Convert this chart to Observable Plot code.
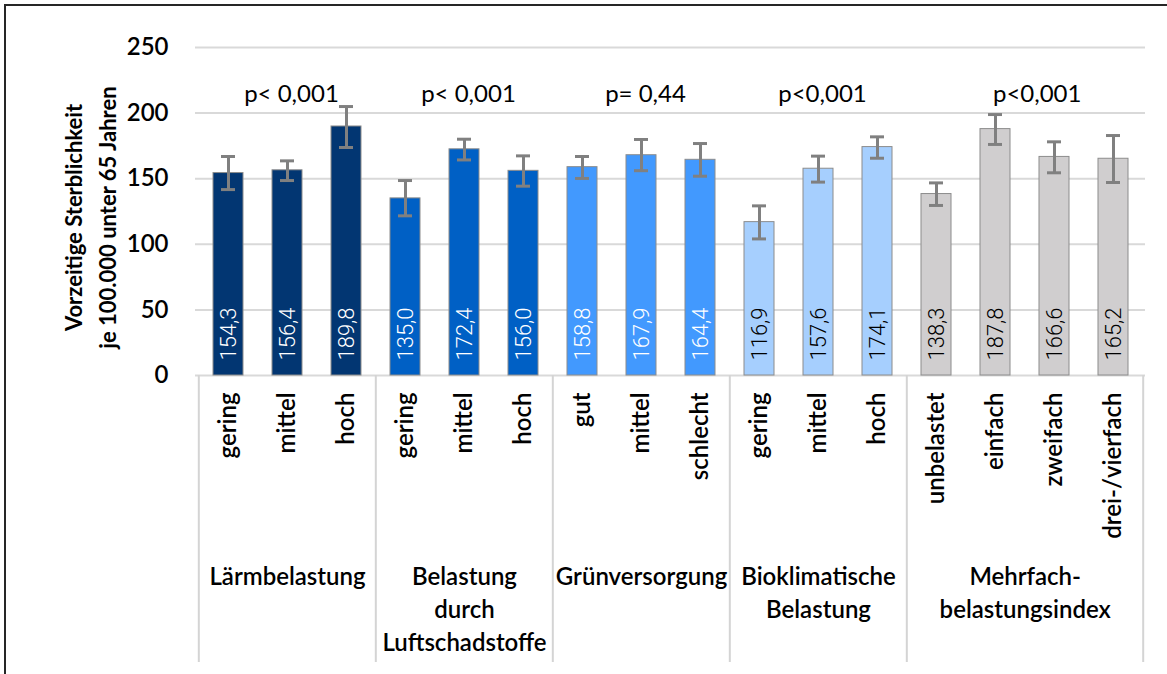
<!DOCTYPE html>
<html><head><meta charset="utf-8">
<script src="https://cdn.jsdelivr.net/npm/d3@7"></script>
<script src="https://cdn.jsdelivr.net/npm/@observablehq/plot@0.6"></script>
<style>
html,body{margin:0;padding:0;background:#fff;overflow:hidden;width:1167px;height:674px;}
#chart{position:absolute;left:0;top:0;}
#frame{position:absolute;left:4px;top:4px;width:1300px;height:800px;border-left:2px solid #262626;border-top:2px solid #262626;pointer-events:none;}
#chart svg{font-family:Lato,"Open Sans",sans-serif;color:#000;}
</style></head><body>
<div id="chart"></div><div id="frame"></div>
<script>
// ---- data ----
const groupNames = ["Lärmbelastung", "Belastung\ndurch\nLuftschadstoffe", "Grünversorgung", "Bioklimatische\nBelastung", "Mehrfach-\nbelastungsindex"];
const groupColors = ["#023672", "#0060c5", "#4299fe", "#a6cffe", "#d0cecf"];
const levelLabels = ["gering","mittel","hoch","gering","mittel","hoch","gut","mittel","schlecht","gering","mittel","hoch","unbelastet","einfach","zweifach","drei-/vierfach"];
const levelGroup = [0,0,0,1,1,1,2,2,2,3,3,3,4,4,4,4];
const values = [154.3,156.4,189.8,135.0,172.4,156.0,158.8,167.9,164.4,116.9,157.6,174.1,138.3,187.8,166.6,165.2];
const errLow = [141.7,148.6,173.8,121.7,164.3,144.3,150.2,156.1,151.9,104.1,147.4,165.6,129.6,176.1,154.5,147.1];
const errHigh = [166.9,163.6,205.0,148.6,180.1,167.4,166.9,179.9,176.8,129.3,167.2,181.9,146.8,198.9,178.1,182.9];
const pValues = ["p< 0,001","p< 0,001","p= 0,44","p<0,001","p<0,001"];
const yTicks = [0,50,100,150,200,250];
const yTitle = "Vorzeitige Sterblichkeit\nje 100.000 unter 65 Jahren";

// ---- layout ----
const W = 1167, H = 674, mL = 195, mR = 22, mT = 47, mB = 299;
const n = values.length;
const step = (W - mL - mR) / n;
const fmt = v => v.toFixed(1).replace(".", ",");

const rows = values.map((v, i) => ({i, level: levelLabels[i], group: levelGroup[i], value: v, lo: errLow[i], hi: errHigh[i]}));
const groups = groupNames.map((name, g) => {
  const idx = rows.filter(r => r.group === g).map(r => r.i);
  const even = idx.length % 2 === 0;
  const mid = even ? idx[idx.length / 2 - 1] : idx[(idx.length - 1) / 2];
  return {g, name, p: pValues[g], first: idx[0], last: idx[idx.length - 1], mid, even};
});

const txt = {fill: "#000"};
const valFont = {rotate: -90, textAnchor: "start", lineAnchor: "middle", dy: -15, fontSize: 22, fontWeight: 300, fontFamily: "Roboto, 'Open Sans', sans-serif"};
const grpFont = {frameAnchor: "bottom", text: "name", lineAnchor: "top", dy: 186, lineHeight: 1.375, fontSize: 24, fontWeight: 600, ...txt};
const pFont = {frameAnchor: "top", text: "p", lineAnchor: "middle", dy: 47, fontSize: 24, fontWeight: 400, ...txt};
const chart = Plot.plot({
  width: W, height: H,
  marginLeft: mL, marginRight: mR, marginTop: mT, marginBottom: mB,
  x: {type: "band", domain: d3.range(n), paddingInner: 0.5, paddingOuter: 0.25, axis: null},
  y: {domain: [0, 250], axis: null},
  color: {domain: d3.range(groupNames.length), range: groupColors},
  marks: [
    Plot.ruleY(yTicks, {y: d => d, stroke: "#d9d9d9", strokeWidth: 2}),
    // separators below axis
    Plot.ruleX(groups, {x: "first", dx: -step / 2, stroke: "#d4d4d4", strokeWidth: 2, insetTop: H - mT - mB, insetBottom: -287}),
    Plot.ruleX(groups.slice(-1), {x: "last", dx: step / 2, stroke: "#d4d4d4", strokeWidth: 2, insetTop: H - mT - mB, insetBottom: -287}),
    Plot.barY(rows, {x: "i", y: "value", fill: "group", stroke: "#8c8c8c", strokeWidth: 1}),
    Plot.ruleX(rows, {x: "i", y1: "lo", y2: "hi", stroke: "#808080", strokeWidth: 3}),
    Plot.tickY(rows, {x: "i", y: "lo", stroke: "#808080", strokeWidth: 3, insetLeft: 8, insetRight: 8}),
    Plot.tickY(rows, {x: "i", y: "hi", stroke: "#808080", strokeWidth: 3, insetLeft: 8, insetRight: 8}),
    // value labels
    Plot.text(rows.filter(r => r.group < 3), {x: "i", y: 0, text: d => fmt(d.value), fill: "#fff", ...valFont}),
    Plot.text(rows.filter(r => r.group >= 3), {x: "i", y: 0, text: d => fmt(d.value), fill: "#000", ...valFont}),
    // y ticks
    Plot.text(yTicks, {y: d => d, frameAnchor: "left", text: d => String(d), textAnchor: "end", lineAnchor: "middle", dx: -27, fontSize: 24, fontWeight: 600, ...txt}),
    // y title
    Plot.text([yTitle], {frameAnchor: "left", textAnchor: "middle", lineAnchor: "middle", dx: -107, dy: 6, rotate: -90, lineHeight: 1.55, fontSize: 22, fontWeight: 700, ...txt}),
    // category labels
    Plot.text(rows, {x: "i", frameAnchor: "bottom", text: "level", rotate: -90, textAnchor: "end", lineAnchor: "middle", dy: 17, fontSize: 24, fontWeight: 600, ...txt}),
    // group labels
    Plot.text(groups.filter(d => !d.even), {x: "mid", ...grpFont}),
    Plot.text(groups.filter(d => d.even), {x: "mid", dx: step / 2, ...grpFont}),
    // p-values
    Plot.text(groups.filter(d => !d.even), {x: "mid", dx: 4, ...pFont}),
    Plot.text(groups.filter(d => d.even), {x: "mid", dx: step / 2 + 12, ...pFont})
  ]
});
document.getElementById("chart").appendChild(chart);
</script></body></html>
